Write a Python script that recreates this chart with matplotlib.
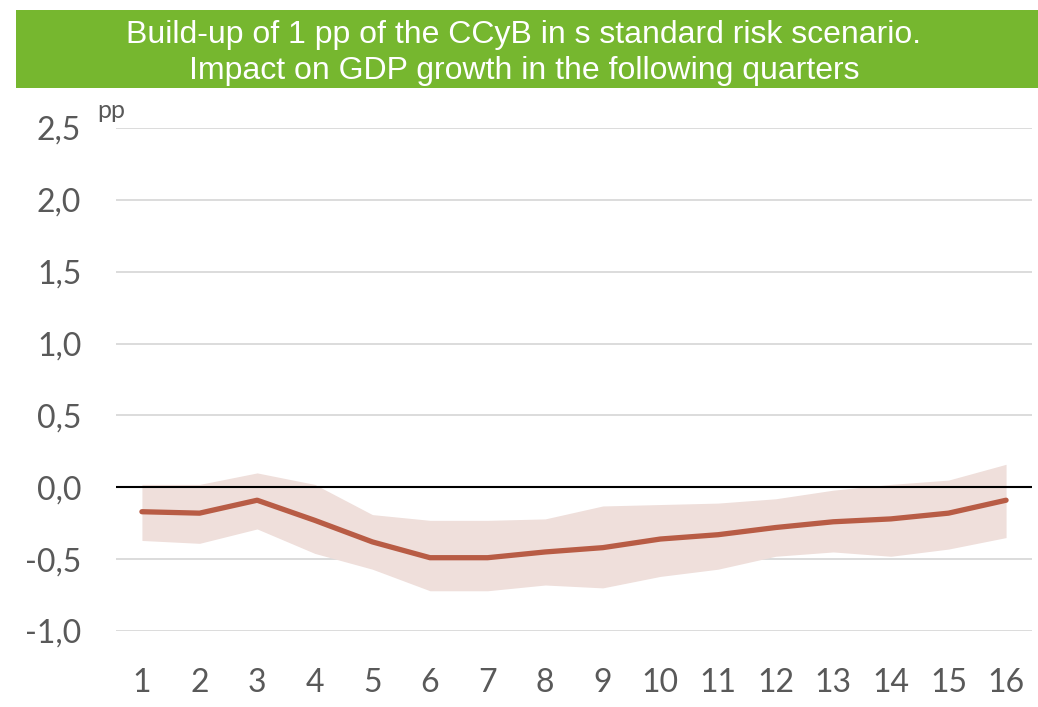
import numpy as np
import matplotlib.pyplot as plt
from matplotlib.patches import Rectangle

# quarters after the build-up
quarters = list(range(1, 17))
impact = [-0.17, -0.18, -0.09, -0.23, -0.38, -0.49, -0.49, -0.45,
          -0.42, -0.36, -0.33, -0.28, -0.24, -0.22, -0.18, -0.09]
upper = [0.02, 0.02, 0.10, 0.02, -0.19, -0.23, -0.23, -0.22,
         -0.13, -0.12, -0.11, -0.08, -0.02, 0.02, 0.05, 0.16]
lower = [-0.37, -0.39, -0.29, -0.46, -0.57, -0.72, -0.72, -0.68,
         -0.70, -0.62, -0.57, -0.48, -0.45, -0.48, -0.43, -0.35]
yticks = [-1.0, -0.5, 0.0, 0.5, 1.0, 1.5, 2.0, 2.5]
ytick_labels = ["-1,0", "-0,5", "0,0", "0,5", "1,0", "1,5", "2,0", "2,5"]

title = ("Build-up of 1 pp of the CCyB in s standard risk scenario.\n"
         "Impact on GDP growth in the following quarters")

tick_font = ["Lato", "DejaVu Sans"]
grey = "#595959"

fig = plt.figure(figsize=(10.38, 7.07), dpi=100)
ax = fig.add_axes([116 / 1038, 1 - 631 / 707, 916 / 1038, 503 / 707])

# green title banner
fig.patches.append(Rectangle((16 / 1038, 1 - 88 / 707), 1 - 16 / 1038, 78 / 707,
                             transform=fig.transFigure, facecolor="#76b72f",
                             edgecolor="none"))
fig.text(524 / 1038, 1 - 53 / 707, title, ha="center", va="center",
         color="white", fontsize=23, family=["Liberation Sans", "DejaVu Sans"],
         linespacing=1.22)

ax.fill_between(quarters, lower, upper, color="#efdfdb", linewidth=0, zorder=1)
ax.plot(quarters, impact, color="#b85c45", linewidth=3.8,
        solid_capstyle="round", zorder=3)
ax.axhline(0, color="black", linewidth=1.5, zorder=2)

ax.set_xlim(0.55, 16.45)
ax.set_ylim(-1.0, 2.5)
ax.set_yticks(yticks)
ax.set_yticklabels(ytick_labels)
ax.set_xticks(quarters)
ax.set_xticklabels([str(q) for q in quarters])
for lbl in ax.get_xticklabels() + ax.get_yticklabels():
    lbl.set_family(tick_font)
    lbl.set_fontsize(23)
    lbl.set_color(grey)

ax.grid(axis="y", color="#d9d9d9", linewidth=1.3, zorder=0)
ax.set_axisbelow(True)
ax.tick_params(axis="x", length=0, pad=26.5)
ax.tick_params(axis="y", length=0, pad=25)
for s in ax.spines.values():
    s.set_visible(False)

fig.text(97 / 1038, 1 - 118 / 707, "pp", fontsize=18, color=grey,
         family=tick_font, va="baseline", ha="left")

plt.savefig("out.png", dpi=100)
